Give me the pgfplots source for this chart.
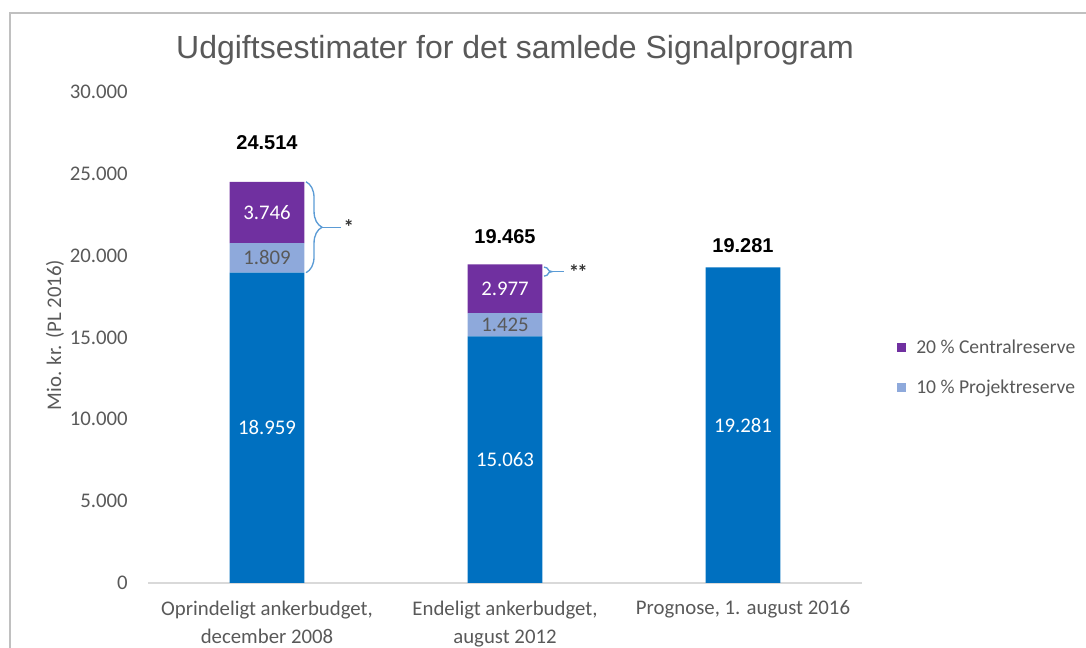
\documentclass[border=0pt]{standalone}
\usepackage{fontspec}
\setmainfont{Carlito}
\newfontfamily\arial{Liberation Sans}
\usepackage{pgfplots}
\pgfplotsset{compat=1.18}
\usetikzlibrary{decorations.pathreplacing}
\definecolor{cblue}{HTML}{0070C0}
\definecolor{clblue}{HTML}{8EA9DB}
\definecolor{cpurple}{HTML}{7030A0}
\definecolor{tgray}{HTML}{595959}
\definecolor{framec}{HTML}{C0C0C0}
\definecolor{axisc}{HTML}{D9D9D9}
\definecolor{bracec}{HTML}{5B9BD5}
\newcommand{\cf}{\fontsize{15.6}{18}\selectfont}
\begin{document}
\begin{tikzpicture}[x=0.75pt,y=0.75pt]
\path[use as bounding box] (0,0) rectangle (1086,648);
\draw[color=framec, line width=1.5pt] (10,-2) -- (10,635) -- (1086,635);
\node[font=\arial\fontsize{24}{28}\selectfont, text=tgray] at (515,598) {Udgiftsestimater for det samlede Signalprogram};
\begin{axis}[
  at={(111pt,48.75pt)}, anchor=south west,
  scale only axis, width=535.5pt, height=368.25pt,
  ybar stacked, bar width=0.315,
  xmin=-0.5, xmax=2.5, ymin=0, ymax=30000,
  axis lines*=left,
  y axis line style={draw=none},
  x axis line style={draw=axisc, line width=0.9pt},
  ytick={0,5000,10000,15000,20000,25000,30000},
  scaled y ticks=false,
  major y tick style={draw=none},
  xtick={0,1,2},
  xticklabels={{Oprindeligt ankerbudget,\\december 2008},{Endeligt ankerbudget,\\august 2012},{Prognose, 1. august 2016}},
  major x tick style={draw=none},
  extra x ticks={-0.5,0.5,1.5,2.5},
  extra x tick labels={},
  extra x tick style={major tick length=4.5pt, tick align=outside, tick style={draw=axisc, line width=0.9pt}},
  xticklabel style={align=center, font=\fontsize{15.6}{21}\selectfont, text=tgray, inner sep=0pt, yshift=-13pt},
  yticklabel style={font=\cf, text=tgray, inner sep=0pt, xshift=-15pt,
    /pgf/number format/.cd, fixed, 1000 sep={.}, assume math mode=true},
  legend image code/.code={\fill[#1] (0pt,-3.4pt) rectangle (6.75pt,3.4pt);},
  legend style={at={(1.049,0.507)}, anchor=north west, draw=none, fill=none, inner sep=0pt,
    row sep=10.5pt, font=\fontsize{14.7}{16}\selectfont, text=tgray, nodes={inner sep=4pt}},
  legend cell align=left,
  reverse legend,
  clip=false,
]
\addplot[fill=cblue, draw=none, forget plot] coordinates {(0,18959) (1,15063) (2,19281)};
\addplot[fill=clblue, draw=none] coordinates {(0,1809) (1,1425) (2,0)};
\addlegendentry{\hspace{3.5pt}10 \% Projektreserve}
\addplot[fill=cpurple, draw=none] coordinates {(0,3746) (1,2977) (2,0)};
\addlegendentry{\hspace{3.5pt}20 \% Centralreserve}
\coordinate (a1) at (axis cs:0,9480);
\coordinate (a2) at (axis cs:1,7531);
\coordinate (a3) at (axis cs:2,9640);
\coordinate (b1) at (axis cs:0,19863);
\coordinate (b2) at (axis cs:1,15775);
\coordinate (c1) at (axis cs:0,22641);
\coordinate (c2) at (axis cs:1,17976);
\coordinate (t1) at (axis cs:0,26884);
\coordinate (t2) at (axis cs:1,21140);
\coordinate (t3) at (axis cs:2,20590);
\draw[decorate, decoration={brace, amplitude=12pt}, bracec, line width=1pt] (axis cs:0.164,24514) -- (axis cs:0.164,18959);
\draw[bracec, line width=1pt] (axis cs:0.231,21736) -- (axis cs:0.311,21736);
\node[anchor=west, inner sep=1pt, font=\bfseries\cf, text=black!80] at (axis cs:0.315,21736) {*};
\draw[decorate, decoration={brace, amplitude=6pt}, bracec, line width=1pt] (axis cs:1.164,19300) -- (axis cs:1.164,18750);
\draw[bracec, line width=1pt] (axis cs:1.197,19025) -- (axis cs:1.248,19025);
\node[anchor=west, inner sep=1pt, font=\bfseries\cf, text=black!80] at (axis cs:1.262,19025) {*\kern-1.5pt*};
\end{axis}
\begin{scope}[every node/.style={font=\cf}]
\node[text=white] at (a1) {18.959};
\node[text=white] at (a2) {15.063};
\node[text=white] at (a3) {19.281};
\node[text=tgray] at (b1) {1.809};
\node[text=tgray] at (b2) {1.425};
\node[text=white] at (c1) {3.746};
\node[text=white] at (c2) {2.977};
\node[font=\arial\bfseries\fontsize{15}{18}\selectfont] at (t1) {24.514};
\node[font=\arial\bfseries\fontsize{15}{18}\selectfont] at (t2) {19.465};
\node[font=\arial\bfseries\fontsize{15}{18}\selectfont] at (t3) {19.281};
\end{scope}
\node[rotate=90, font=\cf, text=tgray] at (55,313) {Mio. kr. (PL 2016)};
\end{tikzpicture}
\end{document}
